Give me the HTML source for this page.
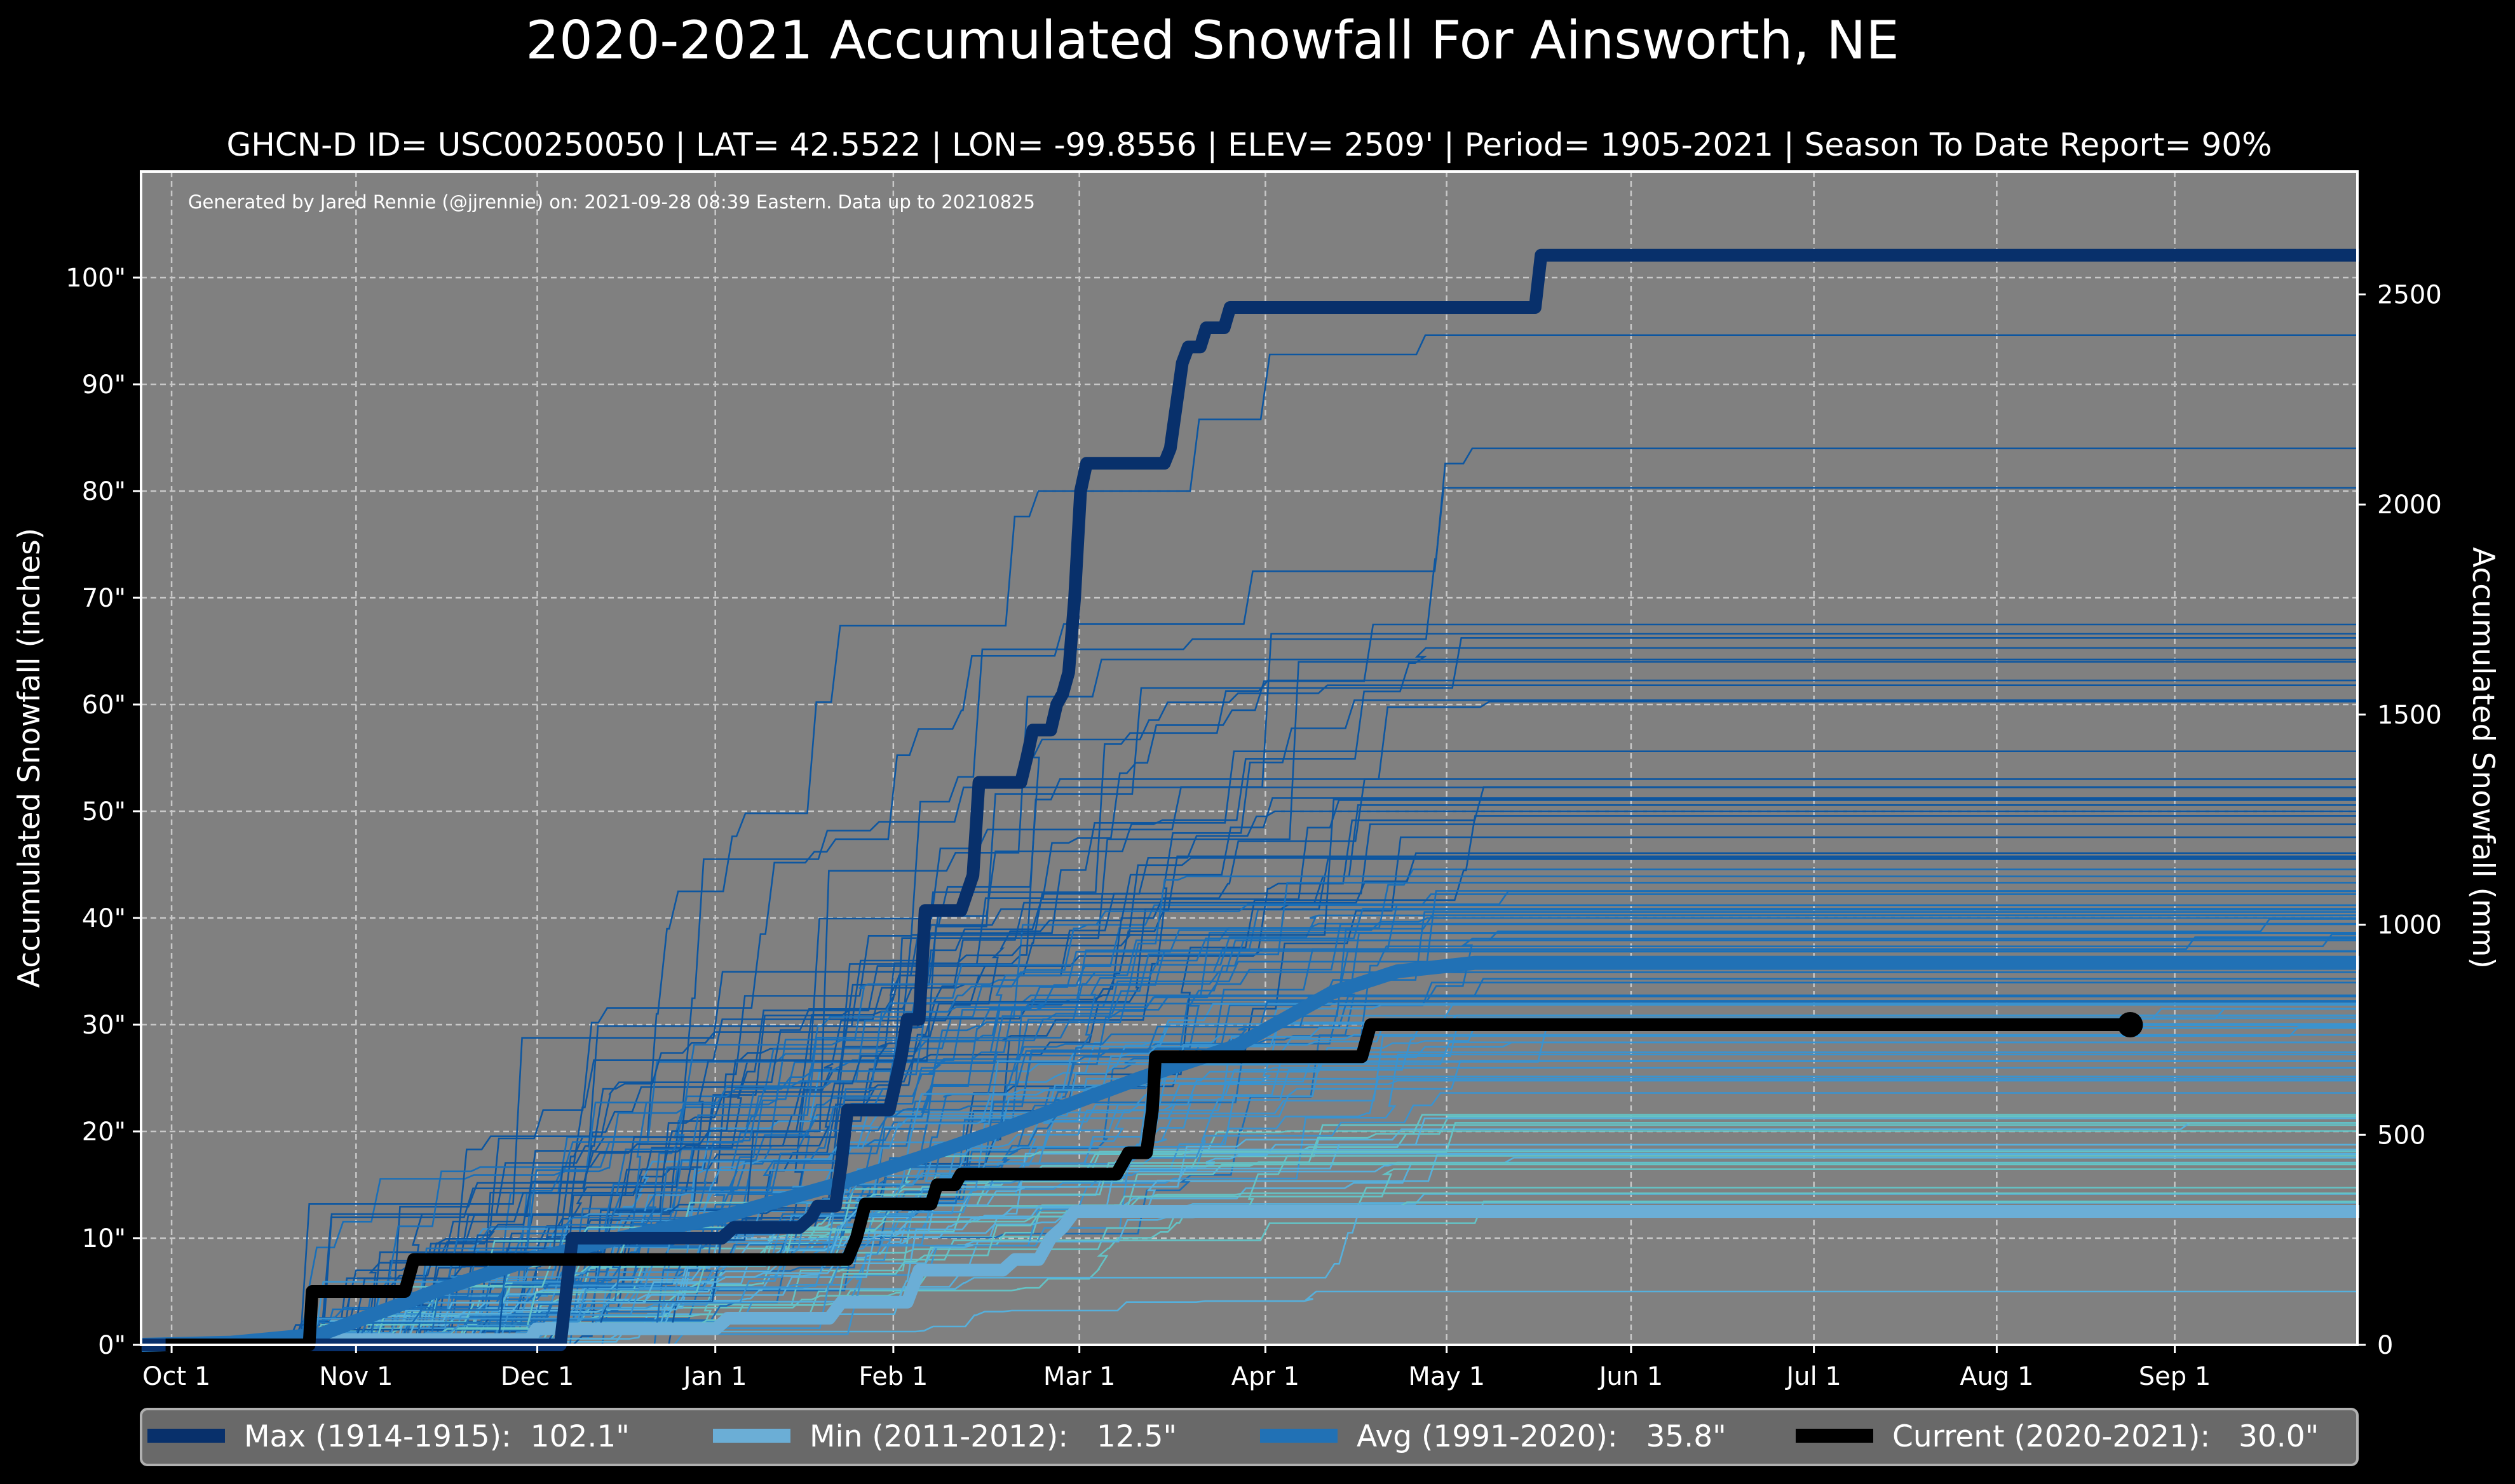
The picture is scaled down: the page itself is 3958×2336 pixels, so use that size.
<!DOCTYPE html>
<html><head><meta charset="utf-8">
<style>
html,body{margin:0;padding:0;background:#000;}
svg{display:block;font-family:"DejaVu Sans","Liberation Sans",sans-serif;}
</style></head>
<body>
<svg id="s" width="3958" height="2336" xmlns="http://www.w3.org/2000/svg">
<rect width="3958" height="2336" fill="#000"/>
<text x="1908" y="92" fill="#fff" font-size="83" text-anchor="middle">2020-2021 Accumulated Snowfall For Ainsworth, NE</text>
<text x="1966" y="245" fill="#fff" font-size="50" text-anchor="middle">GHCN-D ID= USC00250050 | LAT= 42.5522 | LON= -99.8556 | ELEV= 2509' | Period= 1905-2021 | Season To Date Report= 90%</text>
<rect x="222" y="270" width="3488" height="1847" fill="#808080"/>
<g id="grid"></g>
<text x="296" y="328" fill="#fff" font-size="29">Generated by Jared Rennie (@jjrennie) on: 2021-09-28 08:39 Eastern. Data up to 20210825</text>
<g id="lines"></g>
<g id="main"></g>
<rect x="222" y="270" width="3488" height="1847" fill="none" stroke="#fff" stroke-width="4"/>
<g id="ticks" fill="#fff" font-size="40"></g>
<text transform="translate(62,1193) rotate(-90)" fill="#fff" font-size="47" text-anchor="middle">Accumulated Snowfall (inches)</text>
<text transform="translate(3892,1193) rotate(90)" fill="#fff" font-size="47" text-anchor="middle">Accumulated Snowfall (mm)</text>
<rect x="222" y="2218" width="3488" height="88" rx="10" fill="#696969" stroke="#b0b0b0" stroke-width="4"/>
<rect x="232" y="2249" width="122" height="22" fill="#08306b"/>
<text x="384" y="2277" fill="#fff" font-size="47" xml:space="preserve">Max (1914-1915):  102.1"</text>
<rect x="1122" y="2249" width="122" height="22" fill="#6baed6"/>
<text x="1274" y="2277" fill="#fff" font-size="47" xml:space="preserve">Min (2011-2012):   12.5"</text>
<rect x="1983" y="2249" width="122" height="22" fill="#2171b5"/>
<text x="2135" y="2277" fill="#fff" font-size="47" xml:space="preserve">Avg (1991-2020):   35.8"</text>
<rect x="2826" y="2249" width="122" height="22" fill="#000"/>
<text x="2978" y="2277" fill="#fff" font-size="47" xml:space="preserve">Current (2020-2021):   30.0"</text>
</svg>
<script>
(function(){
var NS="http://www.w3.org/2000/svg";
function X(d){return 270+d*9.412;}
function Y(v){return 2117-v*16.8;}
function el(p,tag,a,txt){var e=document.createElementNS(NS,tag);for(var k in a)e.setAttribute(k,a[k]);if(txt!=null)e.textContent=txt;p.appendChild(e);return e;}
var grid=document.getElementById('grid'),ticks=document.getElementById('ticks');
var months=[["Oct 1",107,110],["Nov 1",222,222],["Dec 1",335,335],["Jan 1",446,446],["Feb 1",557,557],["Mar 1",673,673],["Apr 1",789,789],["May 1",902,902],["Jun 1",1017,1017],["Jul 1",1131,1131],["Aug 1",1245,1245],["Sep 1",1356,1356]];
months.forEach(function(m){var x=m[1]*2.524;
 el(grid,'line',{x1:x,x2:x,y1:270,y2:2117,stroke:'#c8c8c8','stroke-width':2.5,'stroke-dasharray':'9,6'});
 el(ticks,'line',{x1:x,x2:x,y1:2117,y2:2130,stroke:'#fff','stroke-width':3});
 el(ticks,'text',{x:m[2]*2.524,y:2180,'text-anchor':'middle'},m[0]);});
for(var v=0;v<=100;v+=10){var y=Y(v);
 if(v>0)el(grid,'line',{x1:222,x2:3710,y1:y,y2:y,stroke:'#c8c8c8','stroke-width':2.5,'stroke-dasharray':'9,6'});
 el(ticks,'line',{x1:209,x2:222,y1:y,y2:y,stroke:'#fff','stroke-width':3});
 el(ticks,'text',{x:198,y:y+14,'text-anchor':'end'},v+'"');}
for(var mm=0;mm<=2500;mm+=500){var y=Y(mm/25.4);
 el(ticks,'line',{x1:3710,x2:3723,y1:y,y2:y,stroke:'#fff','stroke-width':3});
 el(ticks,'text',{x:3741,y:y+14},String(mm));}
var seed=12345;function r(){seed=(seed*16807)%2147483647;return (seed-1)/2147483646;}
var lines=document.getElementById('lines');
var totals=[];
for(var i=0;i<112;i++){var t;var u=r();
 if(u<0.08)t=55+r()*12;else if(u<0.38)t=38+r()*18;else t=12+r()*28;
 if(i==3)t=94.6;if(i==5)t=84;if(i==7)t=80.3;if(i==9)t=67.5;if(i==11)t=5;if(i==13)t=64;if(i==15)t=65.3;
 totals.push(t);}
totals.forEach(function(t){
 var n=8+Math.floor(r()*14),ev=[],sum=0;
 for(var k=0;k<n;k++){var d=15+(r()+r())/2*215;if(r()<0.12)d=20+r()*60;var a=Math.pow(r(),1.6)+0.05;ev.push([d,a]);sum+=a;}
 if(r()<0.06)ev.push([330+r()*30,sum*0.03]),sum*=1.03;
 ev.sort(function(a,b){return a[0]-b[0];});
 var c=0,p='M'+X(-5).toFixed(1)+','+Y(0).toFixed(1);
 ev.forEach(function(e){var d=e[0];p+='L'+X(d).toFixed(1)+','+Y(c).toFixed(1);c+=e[1]/sum*t;p+='L'+X(d+1.5).toFixed(1)+','+Y(c).toFixed(1);});
 p+='L'+X(365.3).toFixed(1)+','+Y(c).toFixed(1);
 var col=t>45?'#0d56a0':t>32?'#1a6fb8':t>22?'#3a93cf':(r()<0.5?'#56b0dc':'#64c3c6');
 el(lines,'path',{d:p,fill:'none',stroke:col,'stroke-width':2.6});
});
var main=document.getElementById('main');
function step(pts){var p='M'+X(pts[0][0])+','+Y(pts[0][1]);for(var i=1;i<pts.length;i++)p+='L'+X(pts[i][0]).toFixed(1)+','+Y(pts[i][1]).toFixed(1);return p;}
var mn=[[-5,0],[24,0],[25,0.5],[60,0.5],[61,1.5],[91,1.5],[93,2.5],[110,2.5],[112,4],[123,4],[125,7],[139,7],[141,8],[145,8],[147,10],[149,11],[151,12.5],[365.8,12.5]];
el(main,'path',{d:step(mn),fill:'none',stroke:'#6baed6','stroke-width':20,'stroke-linejoin':'round'});
var av=[[-5,0],[10,0.2],[25,1],[44,5],[60,8],[75,10],[92,12],[111,15],[125,17.5],[138,20],[150,22.5],[162,25],[178,28],[186,30.5],[194,33],[205,35],[218,35.8],[365.8,35.8]];
el(main,'path',{d:step(av),fill:'none',stroke:'#2171b5','stroke-width':22,'stroke-linejoin':'round'});
var mx=[[-5,0],[65,0],[67,10],[92,10],[94,11],[105,11],[107,12],[108,13],[111,13],[112,17],[113,22],[120,22],[122,27],[123,30.5],[125,30.5],[126,40.7],[132,40.7],[134,44],[135,52.7],[142,52.7],[143,55],[144,57.6],[147,57.6],[148,60],[149,61],[150,63],[151,70],[152,80],[153,82.6],[166,82.6],[167,84],[169,92],[170,93.5],[172,93.5],[173,95.3],[176,95.3],[177,97.2],[228,97.2],[229,102.1],[365.8,102.1]];
el(main,'path',{d:step(mx),fill:'none',stroke:'#08306b','stroke-width':20,'stroke-linejoin':'round'});
var cu=[[-1,0],[23,0],[23.5,5],[39,5],[40.5,8],[113,8],[114.5,10],[116,13.2],[127,13.2],[128,15],[131,15],[132,16],[158,16],[160,18],[163,18],[164,22],[164.5,27],[199,27],[200.5,30],[327.5,30]];
el(main,'path',{d:step(cu),fill:'none',stroke:'#000','stroke-width':20,'stroke-linejoin':'round'});
el(main,'circle',{cx:X(327.5),cy:Y(30),r:20,fill:'#000'});
})();
</script>
</body></html>
